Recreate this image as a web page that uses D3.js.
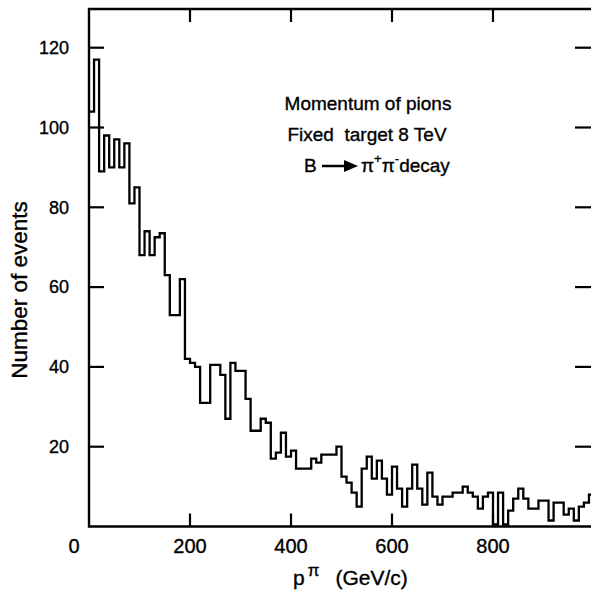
<!DOCTYPE html>
<html>
<head>
<meta charset="utf-8">
<script src="https://cdn.jsdelivr.net/npm/d3@7"></script>
<style>
  body { margin: 0; background: #fff; }
  text { font-family: "Liberation Sans", Arial, Helvetica, sans-serif; fill: #000; stroke: #000; stroke-width: 0.35px; }
</style>
</head>
<body>
<svg id="chart" width="591" height="594"></svg>
<script>
// Pion momentum histogram, 10 GeV/c bins from 0 to 1000 GeV/c
const binWidth = 10;
const eventCounts = [
  104, 117, 89, 98, 90, 97, 90, 96, 81, 85,
  68, 74, 68, 72.5, 73.5, 63, 53, 53, 62, 42,
  41, 40, 31, 31, 40.5, 40.5, 38, 27, 41, 39,
  39, 32, 24, 24, 27, 26, 17, 18.5, 23.5, 17.5,
  19, 14.5, 14.5, 14.5, 17, 16, 18, 18, 18, 20,
  12.5, 11, 8.5, 5, 14.5, 17.5, 12, 16.5, 12, 8,
  15, 9.5, 5, 9.5, 15.5, 9.5, 5.5, 13.5, 7.5, 5.5,
  7.5, 7.5, 8.5, 8.5, 10, 8.5, 7.5, 4.5, 7.5, 8.5,
  0.5, 8.5, 0.5, 4, 7, 9.5, 7, 4.5, 4.5, 6.5,
  6.5, 1.5, 6, 6, 3, 4.5, 1.5, 5, 6, 8
];
const xTickValues = [200, 400, 600, 800];
const xTickLabels = ["200", "400", "600", "800"];
const yTickValues = [20, 40, 60, 80, 100, 120];
const yTickLabels = ["20", "40", "60", "80", "100", "120"];
const xDomain = [0, 1000];
const yDomain = [0, 129.7];

const svg = d3.select("#chart");
const plotLeft = 89, plotRight = 594, plotTop = 9, plotBottom = 526.5;

const x = d3.scaleLinear().domain(xDomain).range([plotLeft, plotRight]);
const y = d3.scaleLinear().domain(yDomain).range([plotBottom, plotTop]);

// clip so the histogram ends at the frame
svg.append("clipPath").attr("id", "plot-clip")
  .append("rect").attr("x", plotLeft).attr("y", plotTop)
  .attr("width", plotRight - plotLeft).attr("height", plotBottom - plotTop);

// histogram as a step outline
const points = eventCounts.map((c, i) => [i * binWidth, c]);
points.push([eventCounts.length * binWidth, eventCounts[eventCounts.length - 1]]);
const step = d3.line()
  .x(d => x(d[0]))
  .y(d => y(d[1]))
  .curve(d3.curveStepAfter);

svg.append("path")
  .attr("clip-path", "url(#plot-clip)")
  .attr("d", step(points))
  .attr("fill", "none")
  .attr("stroke", "#000")
  .attr("stroke-width", 2.3)
  .attr("stroke-linejoin", "miter");

// frame
const frame = svg.append("g").attr("stroke", "#000").attr("stroke-width", 2.4).attr("fill", "none");
frame.append("path").attr("d", `M${plotRight},${plotTop}H${plotLeft}V${plotBottom}H${plotRight}`);

// inward ticks on all four sides
const tickLen = 13;
const ticks = svg.append("g").attr("stroke", "#000").attr("stroke-width", 2.2);
ticks.selectAll(".xb").data(xTickValues).join("line")
  .attr("x1", d => x(d)).attr("x2", d => x(d))
  .attr("y1", plotBottom).attr("y2", plotBottom - tickLen);
ticks.selectAll(".xt").data(xTickValues).join("line")
  .attr("x1", d => x(d)).attr("x2", d => x(d))
  .attr("y1", plotTop).attr("y2", plotTop + tickLen);
ticks.selectAll(".yl").data(yTickValues).join("line")
  .attr("x1", plotLeft).attr("x2", plotLeft + tickLen + 2)
  .attr("y1", d => y(d)).attr("y2", d => y(d));
ticks.selectAll(".yr").data(yTickValues).join("line")
  .attr("x1", plotRight).attr("x2", plotRight - tickLen - 6)
  .attr("y1", d => y(d)).attr("y2", d => y(d));

// tick labels
svg.append("g").selectAll("text").data(yTickValues).join("text")
  .attr("x", 69).attr("y", d => y(d))
  .attr("dy", "0.35em")
  .attr("text-anchor", "end")
  .attr("font-size", 18)
  .text((d, i) => yTickLabels[i]);

svg.append("g").selectAll("text").data(xTickValues).join("text")
  .attr("x", d => x(d)).attr("y", 553)
  .attr("text-anchor", "middle")
  .attr("font-size", 20)
  .text((d, i) => xTickLabels[i]);

svg.append("text").attr("x", 74).attr("y", 553)
  .attr("text-anchor", "middle").attr("font-size", 20).text("0");

// axis titles
svg.append("text")
  .attr("transform", "translate(27,290) rotate(-90)")
  .attr("text-anchor", "middle")
  .attr("font-size", 22.5)
  .text("Number of events");

const xt = svg.append("text").attr("x", 293).attr("y", 585).attr("font-size", 21);
xt.append("tspan").text("p");
xt.append("tspan").attr("dy", -9).attr("dx", 3).attr("font-size", 17).text("π");
xt.append("tspan").attr("dy", 9).attr("dx", 16).text("(GeV/c)");

// annotation
const note = svg.append("g").attr("font-size", 19);
note.append("text").attr("x", 368).attr("y", 110).attr("text-anchor", "middle").text("Momentum of pions");
note.append("text").attr("x", 367).attr("y", 141).attr("text-anchor", "middle")
  .attr("xml:space", "preserve").text("Fixed  target 8 TeV");
note.append("text").attr("x", 304).attr("y", 172).text("B");
note.append("line").attr("x1", 322).attr("x2", 348).attr("y1", 166).attr("y2", 166)
  .attr("stroke", "#000").attr("stroke-width", 2.5);
note.append("path").attr("d", "M344,160L358,166L344,172Z").attr("fill", "#000");
const decay = note.append("text").attr("x", 361).attr("y", 172);
decay.append("tspan").text("π");
decay.append("tspan").attr("dy", -9).attr("font-size", 13).text("+");
decay.append("tspan").attr("dy", 9).text("π");
decay.append("tspan").attr("dy", -9).attr("font-size", 13).text("-");
decay.append("tspan").attr("dy", 9).text("decay");
</script>
</body>
</html>
